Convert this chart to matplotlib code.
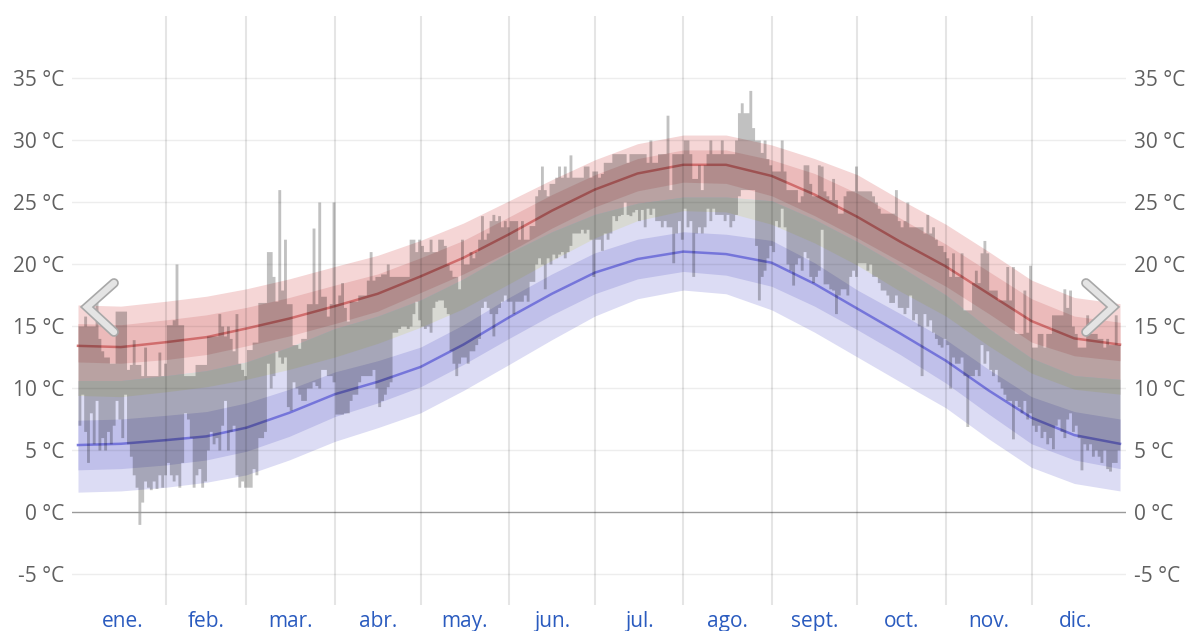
import matplotlib
matplotlib.use("Agg")
import matplotlib.pyplot as plt
import numpy as np
from matplotlib.lines import Line2D

# ---------------- data ----------------
month_labels = ["ene.", "feb.", "mar.", "abr.", "may.", "jun.", "jul.", "ago.", "sept.", "oct.", "nov.", "dic."]
month_days = [31, 28, 31, 30, 31, 30, 31, 31, 30, 31, 30, 31]
y_ticks = [-5, 0, 5, 10, 15, 20, 25, 30, 35]

# climatology at nodes (day of year)
node_days = [0, 15, 31, 45, 59, 74, 90, 105, 120, 135, 151, 166, 181, 196, 212, 227, 243, 258, 273, 288, 304, 319, 334, 349, 364]
hi_mean = [13.4, 13.3, 13.7, 14.1, 14.8, 15.6, 16.6, 17.6, 19.0, 20.5, 22.4, 24.3, 26.0, 27.3, 28.0, 28.0, 27.1, 25.6, 23.8, 21.8, 19.8, 17.6, 15.4, 14.0, 13.5]
hi_p90 = [16.7, 16.6, 17.0, 17.4, 18.0, 18.8, 19.8, 20.7, 21.9, 23.3, 25.1, 26.8, 28.4, 29.7, 30.4, 30.4, 29.6, 28.5, 27.2, 25.2, 23.2, 21.0, 18.7, 17.3, 16.8]
hi_p75 = [15.2, 15.1, 15.5, 15.9, 16.5, 17.3, 18.3, 19.2, 20.5, 21.9, 23.8, 25.6, 27.2, 28.5, 29.2, 29.2, 28.4, 27.3, 25.7, 23.7, 21.6, 19.4, 17.2, 15.8, 15.3]
hi_p25 = [12.1, 12.0, 12.3, 12.7, 13.4, 14.2, 15.2, 16.2, 17.7, 19.2, 21.0, 22.9, 24.6, 25.9, 26.6, 26.5, 25.5, 23.9, 22.1, 20.2, 18.2, 16.0, 13.7, 12.6, 12.2]
hi_p10 = [9.4, 9.3, 9.7, 10.1, 10.7, 11.5, 12.5, 13.6, 14.9, 16.4, 18.4, 20.3, 22.1, 23.5, 24.3, 24.2, 23.2, 21.7, 19.9, 17.8, 15.8, 13.4, 11.2, 9.9, 9.5]

lo_mean = [5.4, 5.5, 5.8, 6.1, 6.8, 8.0, 9.5, 10.5, 11.7, 13.5, 15.7, 17.6, 19.3, 20.4, 21.0, 20.8, 20.1, 18.4, 16.4, 14.4, 12.2, 9.8, 7.6, 6.2, 5.5]
lo_p90 = [10.6, 10.6, 11.0, 11.4, 12.1, 13.3, 14.8, 15.8, 17.1, 18.8, 20.9, 22.6, 24.0, 24.9, 25.4, 25.4, 25.1, 23.6, 21.8, 19.8, 17.5, 14.8, 12.4, 11.0, 10.7]
lo_p75 = [7.4, 7.5, 7.8, 8.1, 8.8, 9.9, 11.3, 12.2, 13.3, 15.1, 17.3, 19.2, 20.9, 22.0, 22.6, 22.4, 21.9, 20.1, 17.9, 16.0, 13.9, 11.5, 9.3, 8.1, 7.5]
lo_p25 = [3.4, 3.5, 3.8, 4.2, 4.9, 6.1, 7.7, 8.8, 10.1, 11.9, 14.0, 15.9, 17.6, 18.8, 19.4, 19.1, 18.2, 16.6, 14.7, 12.7, 10.4, 7.9, 5.5, 4.2, 3.5]
lo_p10 = [1.6, 1.7, 2.0, 2.4, 3.0, 4.2, 5.7, 6.8, 8.0, 9.8, 11.9, 13.9, 15.8, 17.2, 17.9, 17.6, 16.3, 14.5, 12.5, 10.5, 8.4, 5.9, 3.6, 2.3, 1.7]

# observed daily highs / lows
jan_hi = [15.0, 15.0, 15.8, 15.0, 15.0, 15.0, 17.0, 14.0, 13.0, 12.5, 12.5, 12.0, 12.0, 16.2, 16.2, 16.2, 16.2, 11.5, 11.9, 13.9, 11.9, 11.9, 11.0, 13.3, 11.0, 11.0, 11.0, 11.0, 12.9, 11.0, 12.0]
jan_lo = [7.0, 9.5, 6.5, 4.0, 8.0, 5.5, 9.0, 5.0, 6.0, 5.0, 6.5, 5.5, 7.0, 9.0, 7.5, 6.0, 9.5, 5.5, 4.5, 3.0, 2.0, -1.0, 0.8, 2.5, 2.0, 1.8, 2.5, 1.9, 3.0, 2.0, 3.0]
feb_hi = [15.1, 15.1, 15.5, 20.0, 15.1, 15.1, 11.0, 11.0, 11.0, 11.0, 11.9, 11.9, 11.9, 11.9, 14.2, 14.2, 14.2, 14.2, 16.0, 15.0, 14.2, 15.0, 14.0, 13.0, 16.0, 12.0, 11.5, 11.0]
feb_lo = [4.0, 3.0, 2.5, 3.0, 2.0, 4.0, 8.0, 7.5, 6.0, 2.0, 3.0, 3.5, 2.0, 2.5, 5.0, 6.5, 5.5, 6.0, 5.0, 7.0, 9.0, 5.0, 6.5, 7.0, 3.0, 2.0, 2.5, 2.0]
mar_hi = [13.1, 13.1, 13.7, 13.7, 16.9, 16.9, 16.9, 21.0, 21.0, 19.0, 17.0, 26.0, 17.9, 22.0, 16.8, 16.8, 13.5, 13.5, 13.2, 14.0, 14.0, 16.8, 16.8, 22.9, 16.8, 25.0, 17.4, 17.4, 15.8, 16.8, 25.0]
mar_lo = [2.0, 2.0, 3.5, 3.0, 6.0, 6.0, 6.5, 12.0, 10.0, 11.0, 13.0, 12.5, 12.0, 12.5, 8.5, 8.2, 10.5, 10.0, 9.5, 9.0, 9.0, 10.0, 10.0, 10.5, 10.2, 10.0, 11.5, 11.5, 11.0, 11.0, 10.5]
apr_hi = [16.8, 17.5, 18.5, 16.5, 15.4, 17.0, 17.0, 17.0, 17.5, 17.5, 17.5, 18.7, 21.0, 18.7, 19.0, 19.0, 19.2, 19.2, 20.0, 19.0, 19.0, 19.0, 19.0, 19.0, 19.0, 19.0, 22.0, 22.0, 21.0, 22.0]
apr_lo = [7.9, 7.9, 7.9, 8.0, 8.0, 9.0, 9.5, 9.5, 10.5, 11.0, 11.0, 11.0, 11.0, 11.5, 10.0, 8.5, 9.0, 9.5, 10.1, 10.5, 14.5, 14.5, 14.8, 15.0, 15.0, 14.8, 15.0, 16.0, 17.0, 15.5]
may_hi = [21.5, 21.0, 21.0, 22.0, 21.0, 21.0, 22.0, 22.0, 21.5, 20.0, 19.5, 19.0, 19.0, 18.0, 22.0, 20.0, 20.0, 21.0, 20.5, 21.0, 22.0, 23.9, 22.0, 22.5, 23.5, 24.0, 23.5, 23.9, 23.0, 23.5, 23.0]
may_lo = [15.0, 14.8, 15.0, 14.5, 16.5, 17.0, 17.1, 17.1, 16.5, 16.0, 13.0, 12.0, 11.0, 12.0, 12.5, 12.5, 12.0, 13.0, 13.0, 13.5, 14.0, 16.5, 17.0, 16.5, 16.0, 14.2, 16.0, 16.5, 17.0, 17.5, 17.0]
jun_hi = [23.5, 23.5, 23.5, 22.0, 23.5, 22.0, 22.0, 23.1, 23.1, 25.5, 26.0, 27.9, 26.0, 25.5, 26.5, 26.5, 27.0, 27.9, 27.0, 27.9, 27.0, 28.8, 27.0, 27.0, 27.0, 27.0, 27.9, 27.9, 27.0, 27.5]
jun_lo = [17.0, 16.0, 17.0, 17.0, 17.0, 17.5, 17.0, 18.6, 18.6, 20.0, 20.5, 20.0, 18.0, 20.5, 20.0, 20.8, 20.5, 20.8, 21.0, 20.5, 21.0, 21.5, 22.5, 22.5, 22.5, 22.8, 22.5, 22.8, 22.0, 19.0]
jul_hi = [27.5, 27.0, 27.3, 28.2, 28.2, 28.2, 28.9, 28.9, 28.9, 28.9, 28.9, 28.2, 28.9, 28.9, 28.9, 28.9, 28.9, 28.9, 28.2, 30.0, 28.2, 28.2, 28.9, 28.9, 28.9, 32.0, 26.0, 28.9, 28.9, 28.9, 28.9]
jul_lo = [22.0, 22.0, 21.1, 22.5, 22.0, 22.5, 23.9, 23.5, 23.9, 24.0, 25.0, 24.0, 23.9, 24.2, 24.4, 23.5, 24.4, 23.0, 24.5, 24.0, 24.5, 23.5, 23.5, 23.0, 23.5, 23.0, 23.0, 20.1, 22.5, 23.5, 22.0]
aug_hi = [30.0, 30.0, 28.9, 26.9, 26.9, 28.0, 26.0, 28.0, 28.9, 30.0, 28.9, 28.9, 28.9, 30.0, 28.9, 28.9, 28.9, 28.9, 30.0, 32.2, 33.0, 32.2, 32.2, 34.0, 31.0, 30.0, 30.0, 29.0, 30.0, 28.5, 28.0]
aug_lo = [24.5, 23.0, 23.5, 19.0, 22.5, 23.0, 22.5, 23.0, 24.5, 23.5, 24.5, 24.0, 24.0, 24.0, 23.5, 24.0, 23.0, 23.5, 24.0, 25.5, 26.0, 26.0, 26.0, 26.0, 26.0, 21.5, 17.1, 19.0, 19.5, 20.5, 21.5]
sep_hi = [27.5, 27.5, 27.5, 30.0, 27.5, 26.0, 26.0, 26.0, 26.0, 25.0, 25.5, 28.0, 28.0, 26.5, 25.5, 25.5, 28.0, 27.9, 25.9, 25.5, 25.2, 26.9, 25.2, 24.1, 24.1, 25.5, 25.9, 25.9, 25.9, 27.9]
sep_lo = [21.0, 23.5, 23.0, 24.5, 23.0, 20.0, 19.5, 18.3, 20.0, 20.5, 19.5, 21.0, 20.5, 19.0, 18.5, 19.0, 19.5, 22.8, 18.4, 18.4, 18.0, 17.9, 16.0, 17.5, 18.0, 18.0, 17.5, 19.0, 19.5, 19.0]
oct_hi = [25.9, 25.9, 25.9, 25.9, 25.9, 25.5, 25.0, 24.5, 24.1, 24.1, 24.1, 24.1, 24.1, 26.0, 23.5, 23.0, 23.5, 25.0, 23.0, 23.0, 23.0, 23.0, 23.0, 22.5, 24.0, 22.5, 23.0, 22.0, 21.5, 21.5, 21.0]
oct_lo = [20.1, 20.1, 20.1, 19.5, 20.0, 19.0, 19.0, 18.5, 17.9, 17.9, 17.5, 16.9, 16.9, 17.5, 16.5, 16.5, 16.0, 16.5, 17.5, 15.5, 16.0, 15.0, 11.0, 16.0, 15.0, 15.5, 14.5, 14.0, 13.5, 13.3, 14.0]
nov_hi = [20.5, 19.0, 20.9, 19.0, 19.0, 20.9, 16.3, 16.3, 16.3, 18.5, 19.5, 18.5, 20.9, 21.9, 20.9, 17.9, 17.9, 17.9, 17.1, 17.1, 17.1, 19.8, 17.1, 19.8, 14.4, 14.4, 14.4, 17.9, 14.5, 19.9]
nov_lo = [13.5, 10.0, 12.5, 12.0, 12.0, 12.5, 11.0, 6.9, 11.0, 11.0, 11.5, 11.0, 13.5, 12.0, 13.0, 11.5, 11.0, 11.5, 10.5, 10.0, 9.5, 9.0, 9.0, 5.9, 9.0, 8.5, 8.0, 9.0, 7.5, 8.0]
dec_hi = [13.3, 13.3, 14.4, 14.4, 13.3, 14.4, 14.4, 15.9, 15.9, 15.9, 15.9, 18.0, 16.5, 17.9, 15.0, 14.4, 13.3, 13.3, 13.3, 15.9, 14.4, 14.4, 14.4, 14.0, 14.0, 13.3, 14.0, 13.5, 13.5, 15.9, 13.5]
dec_lo = [7.0, 6.5, 7.0, 6.0, 6.5, 5.5, 6.0, 5.1, 7.0, 7.5, 6.5, 6.0, 7.5, 8.0, 6.5, 7.0, 6.0, 3.4, 5.5, 5.0, 5.5, 4.5, 5.0, 4.5, 4.0, 5.0, 3.5, 3.3, 4.0, 4.0, 5.0]

daily_hi = np.array(jan_hi + feb_hi + mar_hi + apr_hi + may_hi + jun_hi + jul_hi + aug_hi + sep_hi + oct_hi + nov_hi + dec_hi)
daily_lo = np.array(jan_lo + feb_lo + mar_lo + apr_lo + may_lo + jun_lo + jul_lo + aug_lo + sep_lo + oct_lo + nov_lo + dec_lo)

# ---------------- figure ----------------
W, H = 1190, 631
fig = plt.figure(figsize=(W / 100, H / 100), dpi=100)
ax = fig.add_axes([72 / W, 26 / H, (1126 - 72) / W, (605 - 16) / H])
ax.set_xlim(-2.1, 367.1)
ax.set_ylim(-7.5, 40.0)

nd = np.array(node_days, dtype=float)
nd[-1] = 365
LIGHT_RED = "#f5d6d6"
DARK_RED = "#ebbaba"
LIGHT_BLUE = "#dcdcf4"
DARK_BLUE = "#c0c0ea"
OVERLAP = "#d8d9d3"

ax.fill_between(nd, hi_p10, hi_p90, color=LIGHT_RED, lw=0, zorder=1)
ax.fill_between(nd, lo_p10, lo_p90, color=LIGHT_BLUE, lw=0, zorder=1.1)
ax.fill_between(nd, hi_p10, lo_p90, where=np.array(lo_p90) > np.array(hi_p10),
                interpolate=True, color=OVERLAP, lw=0, zorder=1.2)
ax.fill_between(nd, hi_p25, hi_p75, color=DARK_RED, lw=0, zorder=1.3)
ax.fill_between(nd, lo_p25, lo_p75, color=DARK_BLUE, lw=0, zorder=1.3)
ax.plot(nd, hi_mean, color="#cc6060", lw=1.8, alpha=0.85, zorder=2)
ax.plot(nd, lo_mean, color="#6868d8", lw=1.8, alpha=0.85, zorder=2)

# daily observed ranges
xs = np.arange(len(daily_hi) + 1)
ax.fill_between(xs, np.append(daily_lo, daily_lo[-1]), np.append(daily_hi, daily_hi[-1]),
                step="post", color="black", alpha=0.245, lw=0, zorder=3)

# grid
for t in y_ticks:
    if t == 0:
        ax.axhline(t, color="#9a9a9a", lw=1.0, zorder=4)
    else:
        ax.axhline(t, color="black", alpha=0.07, lw=1.0, zorder=4)
bounds = np.cumsum(month_days)[:-1]
for b in bounds:
    ax.axvline(b, color="black", alpha=0.1, lw=1.5, zorder=4)

for s in ax.spines.values():
    s.set_visible(False)

font = "Open Sans"
ax.set_yticks(y_ticks)
ax.set_yticklabels([f"{t} °C" for t in y_ticks], fontsize=15, color="#606060", family=font)
ax.tick_params(axis="y", left=False, right=False, labelleft=True, labelright=True, pad=2)
mids = np.concatenate([[0], np.cumsum(month_days)[:-1]]) + np.array(month_days) / 2
ax.set_xticks(mids)
ax.set_xticklabels(month_labels, fontsize=15, color="#2a5bbf", family=font)
ax.tick_params(axis="x", bottom=False, pad=0.5)

# navigation chevrons (overlay)
def chevron(pts):
    xsf = [p[0] / W for p in pts]
    ysf = [1 - p[1] / H for p in pts]
    fig.add_artist(Line2D(xsf, ysf, transform=fig.transFigure, color="#a8a8a8", lw=7.0,
                          solid_capstyle="round", solid_joinstyle="miter", zorder=10))
    fig.add_artist(Line2D(xsf, ysf, transform=fig.transFigure, color="#e4e4e4", lw=4.6,
                          solid_capstyle="round", solid_joinstyle="miter", zorder=11))

chevron([(114, 283), (87, 307), (114, 332)])
chevron([(1086, 283), (1113, 307), (1086, 332)])

fig.savefig("out.png", dpi=100)
